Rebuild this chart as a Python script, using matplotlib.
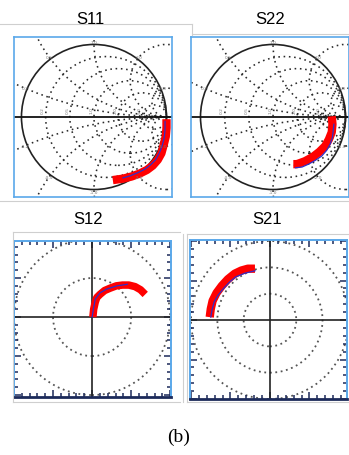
import numpy as np
import matplotlib.pyplot as plt
from matplotlib.patches import Circle
from matplotlib.lines import Line2D
from matplotlib.ticker import MultipleLocator

W, H = 349, 456

# --- data ----------------------------------------------------------------
# S11 / S22 on the Smith chart (Re, Im of reflection coefficient)
s11_red_re = [1.00, 1.00, 0.99, 0.96, 0.93, 0.88, 0.81, 0.73, 0.63, 0.52, 0.40, 0.26]
s11_red_im = [-0.03, -0.15, -0.27, -0.39, -0.50, -0.59, -0.67, -0.73, -0.78, -0.82, -0.85, -0.87]
s11_blue_re = [0.98, 0.98, 0.97, 0.94, 0.90, 0.85, 0.78, 0.70, 0.60, 0.50, 0.40]
s11_blue_im = [-0.06, -0.17, -0.28, -0.40, -0.50, -0.59, -0.66, -0.72, -0.77, -0.81, -0.84]

s22_red_re = [0.81, 0.82, 0.81, 0.77, 0.72, 0.64, 0.55, 0.44, 0.33, 0.28]
s22_red_im = [0.01, -0.10, -0.21, -0.31, -0.40, -0.48, -0.55, -0.61, -0.65, -0.65]
s22_blue_re = [0.84, 0.83, 0.82, 0.79, 0.74, 0.67, 0.58, 0.49, 0.40, 0.31]
s22_blue_im = [-0.10, -0.19, -0.28, -0.37, -0.46, -0.54, -0.60, -0.65, -0.69, -0.70]

# S12 / S21 on polar grids (Re, Im)
s12_red_re = [0.01, 0.02, 0.04, 0.06, 0.10, 0.16, 0.23, 0.31, 0.39, 0.47, 0.55, 0.62, 0.68]
s12_red_im = [0.00, 0.10, 0.19, 0.25, 0.29, 0.34, 0.37, 0.40, 0.41, 0.41, 0.39, 0.35, 0.29]
s12_blue_re = [0.00, 0.02, 0.04, 0.10, 0.19, 0.32, 0.45]
s12_blue_im = [0.00, 0.12, 0.23, 0.31, 0.36, 0.40, 0.42]

s21_red_re = [-2.29, -2.25, -2.18, -2.03, -1.83, -1.60, -1.34, -1.09, -0.84, -0.57]
s21_red_im = [0.11, 0.42, 0.73, 1.03, 1.30, 1.55, 1.76, 1.88, 1.95, 1.95]
s21_blue_re = [-2.25, -2.20, -2.12, -1.97, -1.78, -1.55, -1.30, -0.95, -0.57]
s21_blue_im = [0.11, 0.40, 0.69, 0.95, 1.18, 1.43, 1.64, 1.78, 1.87]

smith_r = [0.2, 0.5, 1.0, 2.0, 5.0]
smith_x = [0.2, 0.5, 1.0, 2.0, 5.0]
s12_rings = [0.5, 1.0]
s21_rings = [1.0, 2.0, 3.0]

titles = ['S11', 'S22', 'S12', 'S21']

DOT = (0, (1, 2.3))
GRID = '#2a2a2a'
BOXBLUE = '#5aa8ea'
NAVY = '#1c2a5a'

fig = plt.figure(figsize=(W / 100, H / 100), dpi=100)


def px_axes(x0, y0, x1, y1):
    return fig.add_axes([x0 / W, 1 - y1 / H, (x1 - x0) / W, (y1 - y0) / H])


def smith(ax, xlim, ylim):
    ax.set_xlim(*xlim)
    ax.set_ylim(*ylim)
    ax.set_xticks([])
    ax.set_yticks([])
    for sp in ax.spines.values():
        sp.set_color(BOXBLUE)
        sp.set_linewidth(1.2)
    # resistance circles
    for r in smith_r:
        ax.add_patch(Circle((r / (1 + r), 0), 1 / (1 + r), fill=False,
                            ls=DOT, lw=1.15, ec=GRID))
        ax.text((r - 1) / (r + 1) - 0.035, 0.1, f'{r:.1f}', fontsize=3.2,
                rotation=90, color='#777777', ha='center', va='center')
    # reactance arcs, running on past the rim to the frame
    for x in smith_x:
        for s in (1, -1):
            ax.add_patch(Circle((1, s / x), 1 / x, fill=False,
                                ls=DOT, lw=1.15, ec=GRID))
            px_ = (x * x - 1) / (x * x + 1)
            py_ = s * 2 * x / (x * x + 1)
            lab = f'{x:.1f}' if s > 0 else f'-{x:.1f}'
            ax.text(px_ * 1.03, py_ * 1.03, lab, fontsize=3.2, color='#777777',
                    ha='center', va='center')
    ax.add_patch(Circle((0, 0), 1, fill=False, lw=1.2, ec='#222222'))
    ax.axhline(0, color='#111111', lw=1.3)


def polar(ax, lim, rings, step, major):
    ax.set_xlim(*lim[0])
    ax.set_ylim(*lim[1])
    for sp in ax.spines.values():
        sp.set_color(BOXBLUE)
        sp.set_linewidth(1.4)
    ax.spines['bottom'].set_color(NAVY)
    ax.spines['bottom'].set_linewidth(2.0)
    for rr in rings:
        ax.add_patch(Circle((0, 0), rr, fill=False, ls=(0, (1, 2.0)),
                            lw=1.3, ec='#555555'))
    ax.axhline(0, color='#222222', lw=1.2)
    ax.axvline(0, color='#222222', lw=1.2)
    for axis in (ax.xaxis, ax.yaxis):
        axis.set_minor_locator(MultipleLocator(step))
        axis.set_major_locator(MultipleLocator(major))
    ax.xaxis.set_ticks_position('both')
    ax.yaxis.set_ticks_position('both')
    ax.tick_params(which='both', direction='in', top=True, right=True,
                   labelbottom=False, labelleft=False, color=NAVY, width=1.1)
    ax.tick_params(which='major', length=5)
    ax.tick_params(which='minor', length=3)


def trace(ax, rre, rim, bre, bim, lw=6.0):
    ax.plot(rre, rim, color='red', lw=lw, solid_capstyle='butt',
            solid_joinstyle='round')
    ax.plot(bre, bim, color='#3030c8', lw=0.9)


# S11
ax1 = px_axes(14, 38, 172, 198)
smith(ax1, (-1.103, 1.076), (-1.103, 1.103))
trace(ax1, s11_red_re, s11_red_im, s11_blue_re, s11_blue_im)

# S22
ax2 = px_axes(191, 38, 349, 198)
smith(ax2, (-1.131, 1.048), (-1.103, 1.103))
trace(ax2, s22_red_re, s22_red_im, s22_blue_re, s22_blue_im)

# S12
ax3 = px_axes(14, 242, 171, 398)
polar(ax3, ((-1.0, 1.01), (-1.025, 0.975)), s12_rings, 0.1, 0.5)
trace(ax3, s12_red_re, s12_red_im, s12_blue_re, s12_blue_im, lw=5.4)

# S21
ax4 = px_axes(190, 241, 347, 400)
polar(ax4, ((-3.04, 2.93), (-3.0, 3.04)), s21_rings, 0.3, 1.5)
trace(ax4, s21_red_re, s21_red_im, s21_blue_re, s21_blue_im)

# titles
for t, (cx, cy) in zip(titles, [(90, 19), (270, 19), (88, 220), (267, 220)]):
    fig.text(cx / W, 1 - cy / H, t, fontsize=12, family='Liberation Sans',
             ha='center', va='center')

fig.text(179 / W, 1 - 437 / H, '(b)', fontsize=14, family='Liberation Serif',
         ha='center', va='center')

# faint frame edges of the pasted screenshots
frame = [
    ((0, 192), (25, 25)), ((192, 192), (25, 36)), ((192, 349), (35, 35)),
    ((0, 349), (202, 202)),
    ((13, 180), (233, 233)), ((13, 13), (233, 403)), ((13, 180), (403, 403)),
    ((187, 349), (235, 235)), ((187, 187), (235, 403)), ((187, 349), (403, 403)),
    ((183, 183), (235, 403)),
]
for xs, ys in frame:
    fig.add_artist(Line2D([x / W for x in xs], [1 - y / H for y in ys],
                          color='#cfcfcf', lw=0.8))

fig.savefig('out.png', dpi=100)
